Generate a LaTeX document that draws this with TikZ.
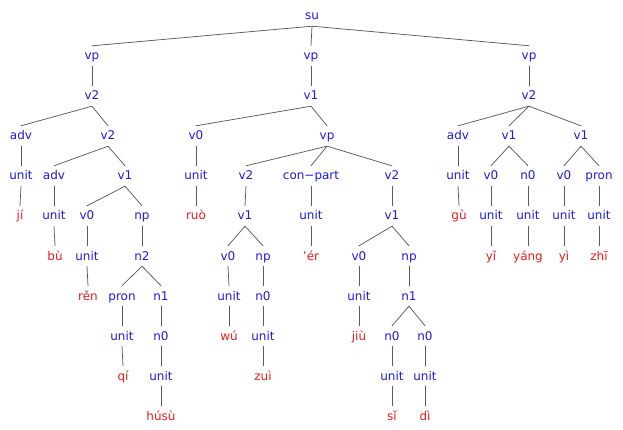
\documentclass[tikz,border=0pt]{standalone}
\usepackage{fontspec}
\setmainfont{DejaVu Sans}[Ligatures=ResetAll]
\usepackage{tikz}
\definecolor{catblue}{HTML}{1A1AF0}
\definecolor{wordred}{HTML}{F01A1A}
\definecolor{linegray}{HTML}{5A5A5A}
\tikzset{
    every picture/.style={line cap=round,line join=round},
    treenode/.style={anchor=base,inner xsep=1pt,inner ysep=4pt,
      text height=10pt,text depth=2pt,font=\fontsize{12}{14}\selectfont},
    catnode/.style={treenode,text=catblue},
    wordnode/.style={treenode,text=wordred},
    branch/.style={draw=linegray,line width=0.75pt}
}

\begin{document}
\begin{tikzpicture}[x=1pt,y=-40pt]
    \useasboundingbox (0,0) rectangle (623,10.75);
    % categories, one level per row
    \node[catnode] (su) at (312,0.5) {su};
    \foreach \n/\x/\t in {vpa/92/vp,vpb/311/vp,vpc/529/vp}
        \node[catnode] (\n) at (\x,1.5) {\t};
    \foreach \n/\x/\t in {vtwoa/92/v2,vone/311/v1,vtwoc/529/v2}
        \node[catnode] (\n) at (\x,2.5) {\t};
    \foreach \n/\x/\t in {adva/21/adv,vtwob/108/v2,vzeroa/196/v0,vpd/327/vp,
                          advc/458/adv,vonec/509/v1,voned/581/v1}
        \node[catnode] (\n) at (\x,3.5) {\t};
    \foreach \n/\x/\t in {unita/21/unit,advb/54/adv,voneb/125/v1,unitb/196/unit,
                          vtwod/246/v2,conpart/311/con−part,vtwoe/392/v2,unitc/458/unit,
                          vzeroc/491/v0,nzeroc/528/n0,vzerod/564/v0,prond/599/pron}
        \node[catnode] (\n) at (\x,4.5) {\t};
    \foreach \n/\x/\t in {unitd/54/unit,vzerob/87/v0,npb/142/np,vonee/245/v1,
                          unite/311/unit,vonef/392/v1,unitf/491/unit,unitg/528/unit,
                          unith/564/unit,uniti/599/unit}
        \node[catnode] (\n) at (\x,5.5) {\t};
    \foreach \n/\x/\t in {unitj/87/unit,ntwob/142/n2,vzeroe/228/v0,npe/263/np,
                          vzerof/359/v0,npf/409/np}
        \node[catnode] (\n) at (\x,6.5) {\t};
    \foreach \n/\x/\t in {pronb/122/pron,noneb/161/n1,unitk/229/unit,nzeroe/263/n0,
                          unitl/359/unit,nonef/409/n1}
        \node[catnode] (\n) at (\x,7.5) {\t};
    \foreach \n/\x/\t in {unitm/122/unit,nzerob/161/n0,unitn/263/unit,
                          nzerof/392/n0,nzerog/425/n0}
        \node[catnode] (\n) at (\x,8.5) {\t};
    \foreach \n/\x/\t in {unito/161/unit,unitp/392/unit,unitq/425/unit}
        \node[catnode] (\n) at (\x,9.5) {\t};
    % words
    \foreach \n/\x/\y/\t in {ji/20/5.5/jí,ruo/196/5.5/ruò,gu/459/5.5/gù,
                             bu/55/6.5/bù,er/311/6.5/'ér,yi/491/6.5/yǐ,yang/528/6.5/yáng,
                             yid/564/6.5/yì,zhi/599/6.5/zhī,ren/88/7.5/rěn,
                             wu/229/8.5/wú,jiu/359/8.5/jiù,qi/123/9.5/qí,zui/263/9.5/zuì,
                             husu/161/10.5/húsù,si/392/10.5/sǐ,di/425/10.5/dì}
        \node[wordnode] (\n) at (\x,\y) {\t};
    % branches
    \foreach \a/\b in {su/vpa,su/vpb,su/vpc,vpa/vtwoa,vpb/vone,vpc/vtwoc,
                       vtwoa/adva,vtwoa/vtwob,vone/vzeroa,vone/vpd,
                       vtwoc/advc,vtwoc/vonec,vtwoc/voned,
                       adva/unita,vtwob/advb,vtwob/voneb,vzeroa/unitb,
                       vpd/vtwod,vpd/conpart,vpd/vtwoe,advc/unitc,
                       vonec/vzeroc,vonec/nzeroc,voned/vzerod,voned/prond,
                       unita/ji,advb/unitd,voneb/vzerob,voneb/npb,unitb/ruo,
                       vtwod/vonee,conpart/unite,vtwoe/vonef,unitc/gu,
                       vzeroc/unitf,nzeroc/unitg,vzerod/unith,prond/uniti,
                       unitd/bu,vzerob/unitj,npb/ntwob,vonee/vzeroe,vonee/npe,
                       unite/er,vonef/vzerof,vonef/npf,unitf/yi,unitg/yang,
                       unith/yid,uniti/zhi,
                       unitj/ren,ntwob/pronb,ntwob/noneb,vzeroe/unitk,npe/nzeroe,
                       vzerof/unitl,npf/nonef,
                       pronb/unitm,noneb/nzerob,unitk/wu,nzeroe/unitn,unitl/jiu,
                       nonef/nzerof,nonef/nzerog,
                       unitm/qi,nzerob/unito,unitn/zui,nzerof/unitp,nzerog/unitq,
                       unito/husu,unitp/si,unitq/di}
        \draw[branch] (\a.south) -- (\b.north);
\end{tikzpicture}
\end{document}
